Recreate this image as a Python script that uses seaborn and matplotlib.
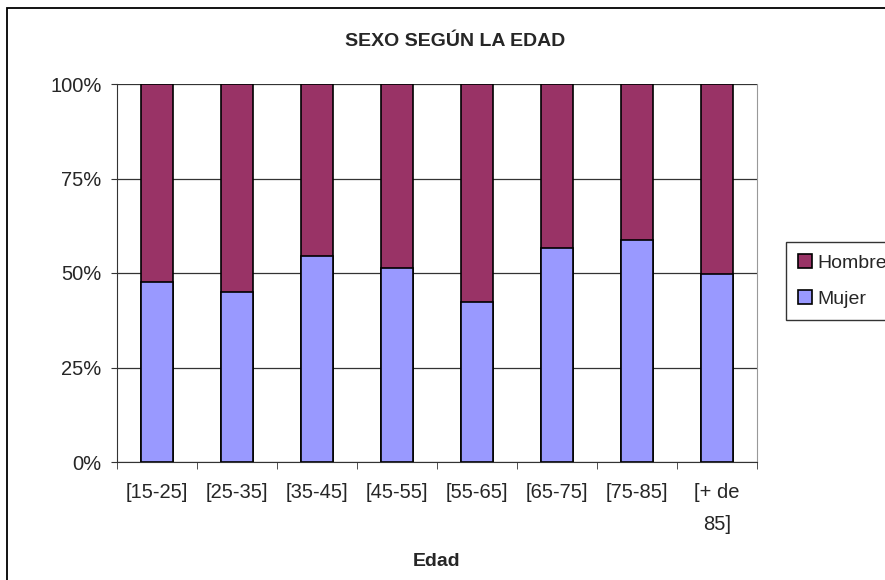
import matplotlib
matplotlib.use("Agg")
import matplotlib.pyplot as plt
import seaborn as sns
import pandas as pd
from matplotlib.patches import Rectangle

categories = ["[15-25]", "[25-35]", "[35-45]", "[45-55]", "[55-65]", "[65-75]", "[75-85]", "[+ de\n85]"]
mujer = [47.6, 45.0, 54.5, 51.3, 42.4, 56.5, 58.7, 49.8]
hombre = [100 - m for m in mujer]
yticks = [0, 25, 50, 75, 100]
ytick_labels = ["0%", "25%", "50%", "75%", "100%"]

df = pd.DataFrame({"Edad": categories, "Mujer": mujer, "Hombre": hombre})
df["Total"] = df["Mujer"] + df["Hombre"]

sns.set_style("white")
plt.rcParams["font.family"] = ["Liberation Sans", "DejaVu Sans"]

fig = plt.figure(figsize=(8.85, 5.8), dpi=100)
ax = fig.add_axes([117/885, 1-462/580, (757-117)/885, (462-84)/580])

c_h = "#993366"
c_m = "#9999FF"
sns.barplot(data=df, x="Edad", y="Total", color=c_h, width=0.4, edgecolor="black",
            linewidth=1.2, ax=ax, label="Hombre", saturation=1)
sns.barplot(data=df, x="Edad", y="Mujer", color=c_m, width=0.4, edgecolor="black",
            linewidth=1.2, ax=ax, label="Mujer", saturation=1)

fs = 14.5
ax.set_ylim(0, 100)
ax.set_xlim(-0.5, len(categories) - 0.5)
ax.set_yticks(yticks)
ax.set_yticklabels(ytick_labels, fontsize=fs)
ax.set_xticks(range(len(categories)))
ax.set_xticklabels(categories, fontsize=fs, linespacing=1.85, va="top")
ax.tick_params(axis="x", length=0, pad=15)
ax.tick_params(axis="y", length=4, color="#333333", pad=7, left=True)
ax.set_xticks([i - 0.5 for i in range(len(categories) + 1)], minor=True)
ax.tick_params(axis="x", which="minor", length=5, color="#333333", bottom=True, direction="out")
ax.yaxis.grid(True, color="#333333", linewidth=0.9)
ax.set_axisbelow(True)
ax.spines["top"].set_visible(False)
ax.spines["right"].set_color("#999999")
ax.spines["left"].set_color("#333333")
ax.spines["bottom"].set_color("#333333")
ax.set_xlabel("Edad", fontsize=14, fontweight="bold", labelpad=14)
ax.set_ylabel("")
fig.text(455/885, 1-42/580, "SEXO SEGÚN LA EDAD", ha="center", va="center",
         fontsize=14, fontweight="bold")

handles, labels = ax.get_legend_handles_labels()
leg = fig.legend(handles, labels, loc="upper left", bbox_to_anchor=(786/885, 1-242/580),
                 frameon=True, fancybox=False, edgecolor="black", fontsize=14,
                 handlelength=0.75, handleheight=0.75, handletextpad=0.25,
                 borderpad=0.6, labelspacing=0.95, borderaxespad=0)
leg.get_frame().set_linewidth(1.0)
if ax.get_legend():
    ax.get_legend().remove()

fig.patches.append(Rectangle((7/885, -0.1), 1.2, 1 - 8/580 + 0.1, transform=fig.transFigure,
                             fill=False, edgecolor="black", linewidth=1.3))

fig.savefig("out.png", dpi=100)
